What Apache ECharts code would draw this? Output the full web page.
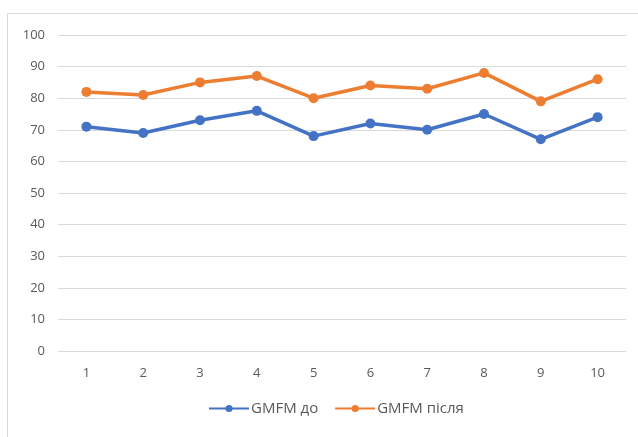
<!DOCTYPE html>
<html>
<head>
<meta charset="utf-8">
<script src="https://cdn.jsdelivr.net/npm/echarts@6/dist/echarts.min.js"></script>
<style>
  html, body { margin: 0; padding: 0; background: #fff; }
  #chart { width: 638px; height: 437px; }
</style>
</head>
<body>
<div id="chart"></div>
<script>
// Sessions 1..10 and GMFM scores before / after
const categories = ['1', '2', '3', '4', '5', '6', '7', '8', '9', '10'];
const gmfmBefore = [71, 69, 73, 76, 68, 72, 70, 75, 67, 74];
const gmfmAfter = [82, 81, 85, 87, 80, 84, 83, 88, 79, 86];
const seriesNames = ['GMFM до', 'GMFM після'];
const yTicks = { min: 0, max: 100, interval: 10 };

const chart = echarts.init(document.getElementById('chart'), null, { renderer: 'canvas' });
const font = "'Open Sans', 'Liberation Sans', sans-serif";

chart.setOption({
  animation: false,
  backgroundColor: '#fff',
  color: ['#4472C4', '#ED7D31'],
  grid: { left: 58, right: 12, top: 35, bottom: 86 },
  graphic: [
    // frame of the chart area
    { type: 'rect', shape: { x: 7.5, y: 13.5, width: 700, height: 500 },
      style: { fill: 'none', stroke: '#d9d9d9', lineWidth: 1 }, silent: true },
    // caption line of the surrounding text, cut at the top edge
    { type: 'text', x: 40, y: 1,
      style: { text: 'період, протягом     експерименту групи, досліджуваних (n=10)',
               font: "19px 'Liberation Serif', 'DejaVu Serif', serif", fill: '#000',
               verticalAlign: 'bottom' } }
  ],
  legend: {
    bottom: 16,
    left: 203,
    itemWidth: 40,
    itemHeight: 9,
    itemGap: 16,
    textStyle: { color: '#595959', fontSize: 15, fontFamily: font, padding: [0, 0, 0, -3] },
    data: seriesNames
  },
  xAxis: {
    type: 'category',
    data: categories,
    boundaryGap: true,
    axisLine: { show: false },
    axisTick: { show: false },
    axisLabel: { color: '#595959', fontSize: 13, fontFamily: font, margin: 16 }
  },
  yAxis: {
    type: 'value',
    min: yTicks.min,
    max: yTicks.max,
    interval: yTicks.interval,
    axisLine: { show: false },
    axisTick: { show: false },
    axisLabel: { color: '#595959', fontSize: 13, fontFamily: font, margin: 13 },
    splitLine: { lineStyle: { color: '#d9d9d9', width: 1 } }
  },
  series: [
    { name: seriesNames[0], type: 'line', data: gmfmBefore,
      symbol: 'circle', symbolSize: 10, lineStyle: { width: 3.5 } },
    { name: seriesNames[1], type: 'line', data: gmfmAfter,
      symbol: 'circle', symbolSize: 10, lineStyle: { width: 3.5 } }
  ]
});
</script>
</body>
</html>
